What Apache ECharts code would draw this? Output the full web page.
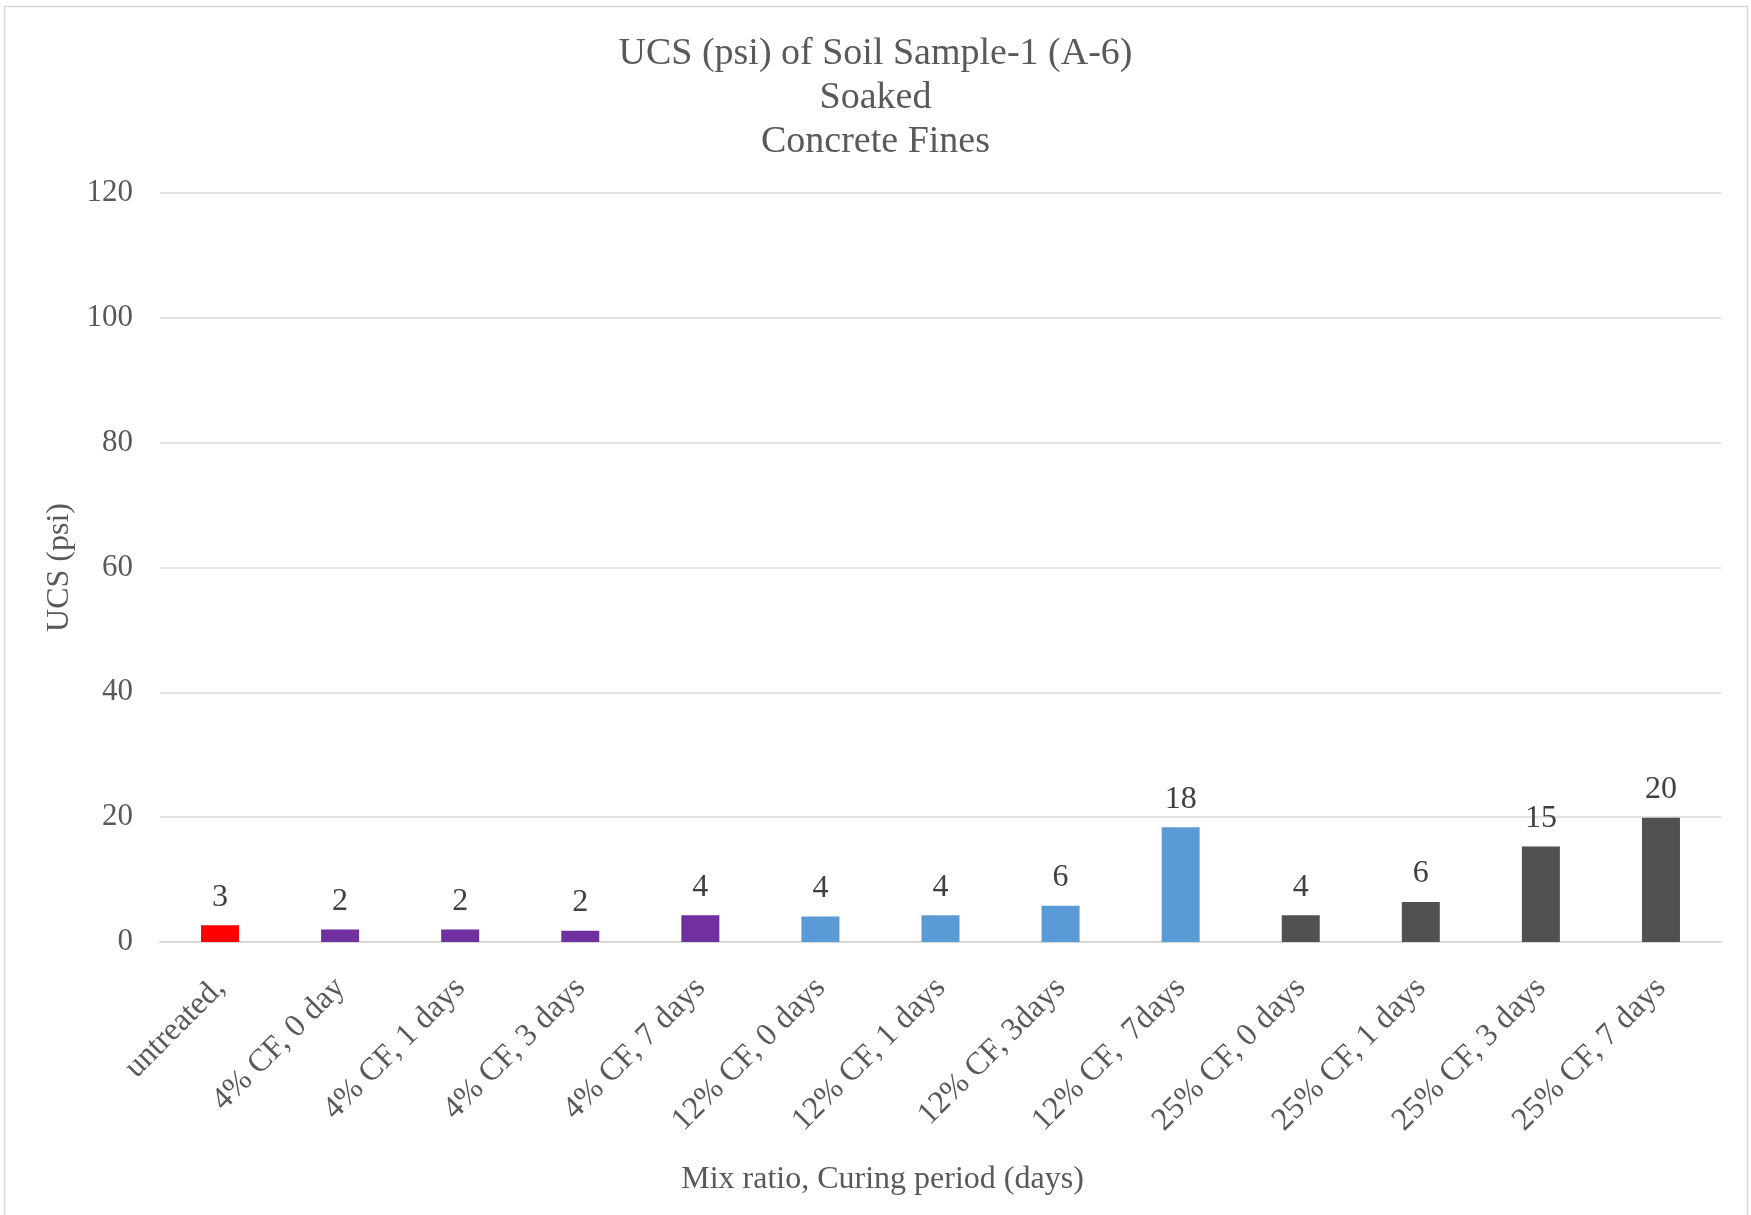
<!DOCTYPE html>
<html>
<head>
<meta charset="utf-8">
<script src="https://cdn.jsdelivr.net/npm/echarts@6/dist/echarts.min.js"></script>
<style>
  html, body { margin: 0; padding: 0; background: #ffffff; }
  #chart { width: 1751px; height: 1215px; }
</style>
</head>
<body>
<div id="chart"></div>
<script>
// Mix ratio / curing period categories
const categories = [
  'untreated,', '4% CF, 0 day', '4% CF, 1 days', '4% CF, 3 days', '4% CF, 7 days',
  '12% CF, 0 days', '12% CF, 1 days', '12% CF, 3days', '12% CF,  7days',
  '25% CF, 0 days', '25% CF, 1 days', '25% CF, 3 days', '25% CF, 7 days'
];
// UCS values in psi
const ucsValues = [2.7, 2.0, 2.0, 1.8, 4.3, 4.1, 4.3, 5.8, 18.4, 4.3, 6.4, 15.3, 19.9];
// Bar colour per group: untreated, 4% CF, 12% CF, 25% CF
const barColors = [
  '#FF0000', '#7030A0', '#7030A0', '#7030A0', '#7030A0',
  '#5B9BD5', '#5B9BD5', '#5B9BD5', '#5B9BD5',
  '#515151', '#515151', '#515151', '#515151'
];
const yTicks = [0, 20, 40, 60, 80, 100, 120];

const font = '"Liberation Serif", "Times New Roman", serif';
const textColor = '#595959';

const chart = echarts.init(document.getElementById('chart'));
chart.setOption({
  animation: false,
  textStyle: { fontFamily: font, color: textColor },
  title: {
    text: 'UCS (psi) of Soil Sample-1 (A-6)\nSoaked\nConcrete Fines',
    left: 'center',
    top: 27,
    textStyle: { fontFamily: font, fontWeight: 'normal', fontSize: 38, lineHeight: 44, color: textColor }
  },
  graphic: [{
    type: 'rect',
    shape: { x: 4.5, y: 6.5, width: 1743, height: 1220 },
    style: { fill: null, stroke: '#D9D9D9', lineWidth: 1.5 },
    silent: true
  }],
  grid: { left: 160, right: 30, top: 193, bottom: 273 },
  xAxis: {
    type: 'category',
    data: categories,
    name: 'Mix ratio, Curing period (days)',
    nameLocation: 'middle',
    nameGap: 222,
    nameTextStyle: { fontFamily: font, fontSize: 32, color: textColor, padding: [0, 116, 0, 0] },
    axisLine: { lineStyle: { color: '#D9D9D9', width: 2 } },
    axisTick: { show: false },
    axisLabel: {
      rotate: 45,
      interval: 0,
      margin: 41,
      fontFamily: font,
      fontSize: 32,
      color: textColor
    }
  },
  yAxis: {
    type: 'value',
    min: yTicks[0],
    max: yTicks[yTicks.length - 1],
    interval: 20,
    name: 'UCS (psi)',
    nameLocation: 'middle',
    nameGap: 81,
    nameRotate: 90,
    nameTextStyle: { fontFamily: font, fontSize: 32, color: textColor },
    axisLine: { show: false },
    axisTick: { show: false },
    splitLine: { lineStyle: { color: '#D9D9D9', width: 1.5 } },
    axisLabel: { margin: 27, fontFamily: font, fontSize: 31, color: textColor }
  },
  series: [{
    type: 'bar',
    barWidth: 38,
    data: ucsValues.map((v, i) => ({ value: v, itemStyle: { color: barColors[i] } })),
    label: {
      show: true,
      position: 'top',
      distance: 12,
      fontFamily: font,
      fontSize: 32,
      color: '#404040',
      formatter: p => String(Math.round(p.value))
    }
  }]
});
</script>
</body>
</html>
